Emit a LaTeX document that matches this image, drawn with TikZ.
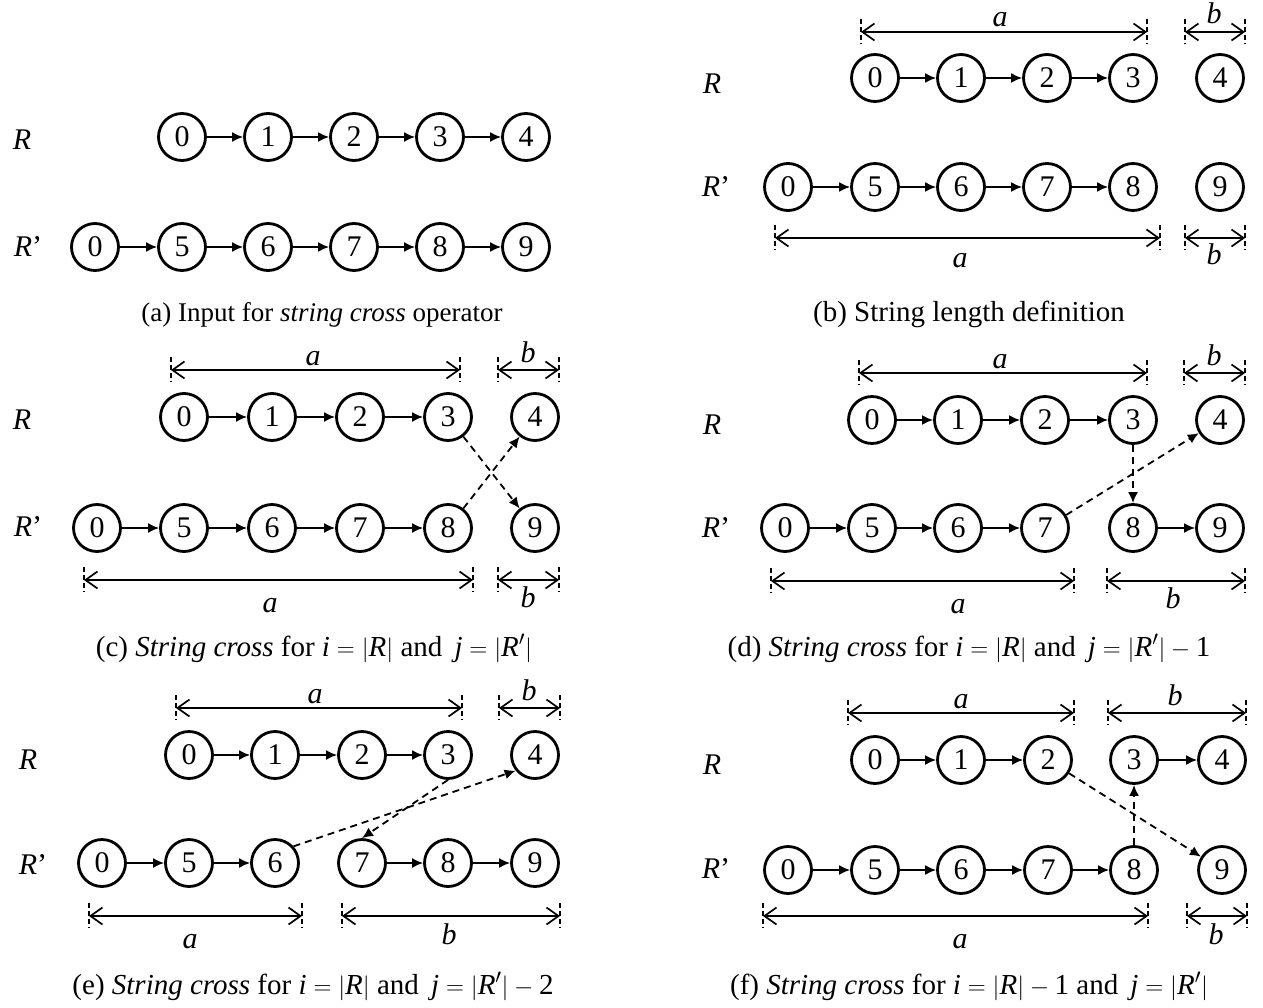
\documentclass[tikz,border=0pt]{standalone}
\usepackage{fontspec}
\setmainfont{Liberation Serif}
\usetikzlibrary{arrows.meta}
\newcommand{\dimln}[3]{%
  \coordinate (dl) at (#1,#3); \coordinate (dr) at (#2,#3);
  \coordinate (dlt) at (#1,#3-13); \coordinate (dlb) at (#1,#3+12);
  \coordinate (drt) at (#2,#3-13); \coordinate (drb) at (#2,#3+12);
  \draw[tickln] (dlt) -- (dlb); \draw[tickln] (drt) -- (drb);
  \draw[dimln] (dl) -- (dr);}
\newcommand{\ti}[1]{\textit{#1}}
\begin{document}
\begin{tikzpicture}[x=1pt,y=-1pt,
  nd/.style={circle,draw,line width=2.8pt,minimum size=47pt,inner sep=0pt,
    font=\fontsize{30}{30}\selectfont},
  arr/.style={-{Latex[length=11pt,width=10pt]},line width=1.8pt},
  dsh/.style={-{Latex[length=11pt,width=10pt]},line width=1.8pt,dash pattern=on 7pt off 5pt},
  dimln/.style={{Straight Barb[length=12pt,width=17pt]}-{Straight Barb[length=12pt,width=17pt]},line width=1.7pt},
  tickln/.style={line width=1.5pt,dash pattern=on 5pt off 3pt},
  rl/.style={font=\fontsize{30}{30}\selectfont},
  dl/.style={anchor=base,font=\fontsize{30}{30}\selectfont\itshape},
  captxt/.style={anchor=base,font=\fontsize{29}{30}\selectfont},
  captsm/.style={anchor=base,font=\fontsize{27}{30}\selectfont}]
\useasboundingbox (0,0) rectangle (1263,1008);

% ---------- (a)
\node[rl] (aRl) at (22,140) {\ti{R}};
\node[rl] (aPl) at (28,247) {\ti{R}’};
\foreach \nm/\t/\x in {aR0/0/182,a1/1/268,a2/2/354,a3/3/440,a4/4/526}
  \node[nd] (\nm) at (\x,137) {\t};
\foreach \nm/\t/\x in {aP0/0/95,a5/5/182,a6/6/268,a7/7/354,a8/8/440,a9/9/526}
  \node[nd] (\nm) at (\x,247) {\t};
\foreach \u/\v in {aR0/a1,a1/a2,a2/a3,a3/a4,aP0/a5,a5/a6,a6/a7,a7/a8,a8/a9}
  \draw[arr] (\u) -- (\v);
\node[captsm] (capa) at (322,321) {(a) Input for \ti{string cross} operator};

% ---------- (b)
\node[rl] (bRl) at (712,84) {\ti{R}};
\node[rl] (bPl) at (716,187) {\ti{R}’};
\foreach \nm/\t/\x in {bR0/0/875,b1/1/961,b2/2/1047,b3/3/1133,b4/4/1220}
  \node[nd] (\nm) at (\x,78) {\t};
\foreach \nm/\t/\x in {bP0/0/788,b5/5/875,b6/6/961,b7/7/1047,b8/8/1133,b9/9/1220}
  \node[nd] (\nm) at (\x,187) {\t};
\foreach \u/\v in {bR0/b1,b1/b2,b2/b3,bP0/b5,b5/b6,b6/b7,b7/b8}
  \draw[arr] (\u) -- (\v);
\dimln{861}{1147}{32}
\dimln{1185}{1245}{32}
\dimln{775}{1160}{238}
\dimln{1185}{1245}{238}
\node[dl] (bta) at (1000,27) {a};
\node[dl] (btb) at (1214,24) {b};
\node[dl] (bba) at (960,268) {a};
\node[dl] (bbb) at (1214,265) {b};
\node[captxt] (capb) at (969,321) {(b) String length definition};

% ---------- (c)
\node[rl] (cRl) at (22,420) {\ti{R}};
\node[rl] (cPl) at (28,527) {\ti{R}’};
\foreach \nm/\t/\x in {cR0/0/184,c1/1/272,c2/2/360,c3/3/448,c4/4/535}
  \node[nd] (\nm) at (\x,417) {\t};
\foreach \nm/\t/\x in {cP0/0/97,c5/5/184,c6/6/272,c7/7/360,c8/8/448,c9/9/535}
  \node[nd] (\nm) at (\x,528) {\t};
\foreach \u/\v in {cR0/c1,c1/c2,c2/c3,cP0/c5,c5/c6,c6/c7,c7/c8}
  \draw[arr] (\u) -- (\v);
\draw[dsh] (c3) -- (c9);
\draw[dsh] (c8) -- (c4);
\dimln{171}{460}{370}
\dimln{498}{559}{370}
\dimln{84}{473}{580}
\dimln{498}{559}{580}
\node[dl] (cta) at (313,365) {a};
\node[dl] (ctb) at (528,362) {b};
\node[dl] (cba) at (270,612) {a};
\node[dl] (cbb) at (528,607) {b};
\node[captxt] (capc) at (314,656) {(c) \ti{String cross} for $\ti{i}=|\ti{R}|$ and \,$\ti{j}=|\ti{R}'|$};

% ---------- (d)
\node[rl] (dRl) at (712,425) {\ti{R}};
\node[rl] (dPl) at (716,528) {\ti{R}’};
\foreach \nm/\t/\x in {dR0/0/872,d1/1/958,d2/2/1045,d3/3/1133,d4/4/1220}
  \node[nd] (\nm) at (\x,420) {\t};
\foreach \nm/\t/\x in {dP0/0/785,d5/5/872,d6/6/958,d7/7/1045,d8/8/1133,d9/9/1220}
  \node[nd] (\nm) at (\x,528) {\t};
\foreach \u/\v in {dR0/d1,d1/d2,d2/d3,dP0/d5,d5/d6,d6/d7,d8/d9}
  \draw[arr] (\u) -- (\v);
\draw[dsh] (d3) -- (d8);
\draw[dsh] (d7) -- (d4);
\dimln{859}{1147}{373}
\dimln{1184}{1245}{373}
\dimln{771}{1074}{581}
\dimln{1107}{1245}{581}
\node[dl] (dta) at (1000,368) {a};
\node[dl] (dtb) at (1214,365) {b};
\node[dl] (dba) at (958,613) {a};
\node[dl] (dbb) at (1173,608) {b};
\node[captxt] (capd) at (969,656) {(d) \ti{String cross} for $\ti{i}=|\ti{R}|$ and \,$\ti{j}=|\ti{R}'|-\textup{1}$};

% ---------- (e)
\node[rl] (eRl) at (28,760) {\ti{R}};
\node[rl] (ePl) at (33,865) {\ti{R}’};
\foreach \nm/\t/\x in {eR0/0/189,e1/1/275,e2/2/362,e3/3/448,e4/4/535}
  \node[nd] (\nm) at (\x,755) {\t};
\foreach \nm/\t/\x in {eP0/0/102,e5/5/189,e6/6/275,e7/7/362,e8/8/448,e9/9/535}
  \node[nd] (\nm) at (\x,863) {\t};
\foreach \u/\v in {eR0/e1,e1/e2,e2/e3,eP0/e5,e5/e6,e7/e8,e8/e9}
  \draw[arr] (\u) -- (\v);
\draw[dsh] (e3.south) -- (e7.north);
\draw[dsh] (e6.42) -- (e4.219);
\dimln{176}{462}{708}
\dimln{499}{560}{708}
\dimln{89}{302}{916}
\dimln{342}{560}{916}
\node[dl] (eta) at (315,703) {a};
\node[dl] (etb) at (529,700) {b};
\node[dl] (eba) at (190,948) {a};
\node[dl] (ebb) at (449,944) {b};
\node[captxt] (cape) at (313,994) {(e) \ti{String cross} for $\ti{i}=|\ti{R}|$ and \,$\ti{j}=|\ti{R}'|-\textup{2}$};

% ---------- (f)
\node[rl] (fRl) at (712,765) {\ti{R}};
\node[rl] (fPl) at (716,869) {\ti{R}’};
\foreach \nm/\t/\x in {fR0/0/875,f1/1/961,f2/2/1048,f3/3/1134,f4/4/1222}
  \node[nd] (\nm) at (\x,760) {\t};
\foreach \nm/\t/\x in {fP0/0/788,f5/5/875,f6/6/961,f7/7/1048,f8/8/1134,f9/9/1222}
  \node[nd] (\nm) at (\x,870) {\t};
\foreach \u/\v in {fR0/f1,f1/f2,f3/f4,fP0/f5,f5/f6,f6/f7,f7/f8}
  \draw[arr] (\u) -- (\v);
\draw[dsh] (f2) -- (f9);
\draw[dsh] (f8) -- (f3);
\dimln{848}{1074}{713}
\dimln{1108}{1246}{713}
\dimln{763}{1148}{916}
\dimln{1187}{1247}{916}
\node[dl] (fta) at (961,708) {a};
\node[dl] (ftb) at (1175,705) {b};
\node[dl] (fba) at (960,948) {a};
\node[dl] (fbb) at (1216,944) {b};
\node[captxt] (capf) at (969,994) {(f) \ti{String cross} for $\ti{i}=|\ti{R}|-\textup{1}$ and \,$\ti{j}=|\ti{R}'|$};
\end{tikzpicture}
\end{document}
